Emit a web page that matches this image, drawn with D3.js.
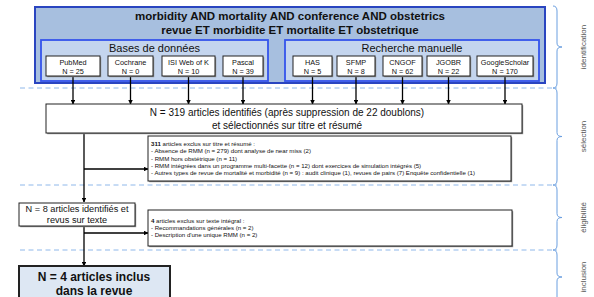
<!DOCTYPE html>
<html>
<head>
<meta charset="utf-8">
<script src="https://cdn.jsdelivr.net/npm/d3@7"></script>
<style>
  body { margin: 0; background: #fff; }
  svg { display: block; font-family: "Liberation Sans", Arial, sans-serif; }
</style>
</head>
<body>
<div id="chart"></div>
<script>
// ---------------------------------------- data ----------------------------------------
const titleLines = ['morbidity AND mortality AND conference AND obstetrics',
  'revue ET morbidite ET mortalite ET obstetrique'];
const groupNames = ['Bases de données', 'Recherche manuelle'];
const sources = ['PubMed', 'Cochrane', 'ISI Web of K', 'Pascal', 'HAS', 'SFMP', 'CNGOF', 'JGOBR', 'GoogleScholar'];
const sourceCounts = [25, 0, 10, 39, 5, 8, 62, 22, 170];
const sourceGroup = [0, 0, 0, 0, 1, 1, 1, 1, 1];
const stages = ['identification', 'sélection', 'éligibilité', 'inclusion'];

const screenedLines = ['N = 319 articles identifiés (après suppression de 22 doublons)',
  'et sélectionnés sur titre et résumé'];
const excluded1Head = ['311', ' articles exclus sur titre et résumé :'];
const excluded1Lines = ['- Absence de RMM (n =  279) dont analyse de near miss (2)',
  '- RMM hors obstétrique (n = 11)',
  '- RMM intégrées dans un programme multi-facette (n = 12) dont exercices de simulation intégrés (5)',
  '- Autres types de revue de mortalité et morbidité (n = 9) : audit clinique (1), revues de pairs (7) Enquête confidentielle (1)'];
const eligibleLines = ['N = 8 articles identifiés et', 'revus sur texte'];
const excluded2Head = ['4', ' articles exclus sur texte intégral :'];
const excluded2Lines = ['- Recommandations générales (n = 2)',
  '- Description d\'une unique RMM (n = 2)'];
const includedLines = ['N = 4 articles inclus', 'dans la revue'];

// ---------------------------------------- layout ----------------------------------------
let w = 594, h = 297;
// stage boundaries (y) for dashed separators and braces
let bounds = [6, 88, 185, 250, 320];

// source boxes: positions along the top band
let srcX = [[46, 100], [108, 153], [162, 215], [223, 263], [293, 332], [337, 375], [383, 422], [427, 470], [477, 533]];
let srcTop = 56, srcBot = 76;

let svg = d3.select('#chart').append('svg').attr('width', w).attr('height', h);

let defs = svg.append('defs');
defs.append('marker')
  .attr('id', 'arrow')
  .attr('viewBox', '0 0 10 10')
  .attr('refX', 9).attr('refY', 5)
  .attr('markerWidth', 4.5).attr('markerHeight', 4.5)
  .attr('markerUnits', 'userSpaceOnUse')
  .attr('orient', 'auto')
  .append('path').attr('d', 'M0,0 L10,5 L0,10 Z').attr('fill', '#000');

function box(x0, y0, x1, y1, opts) {
  opts = opts || {};
  if (opts.shadow) {
    svg.append('rect')
      .attr('x', x0 + 1.2).attr('y', y0 + 1.2)
      .attr('width', x1 - x0).attr('height', y1 - y0)
      .attr('fill', '#8a8a8a');
  }
  return svg.append('rect')
    .attr('x', x0).attr('y', y0)
    .attr('width', x1 - x0).attr('height', y1 - y0)
    .attr('fill', opts.fill || '#fff')
    .attr('stroke', opts.stroke || '#111')
    .attr('stroke-width', opts.sw || 1);
}

// dashed stage separators
svg.selectAll('.sep')
  .data(bounds.slice(1, 4))
  .enter()
  .append('line')
  .attr('class', 'sep')
  .attr('x1', 20).attr('x2', 557)
  .attr('y1', d => d).attr('y2', d => d)
  .attr('stroke', '#8fb8ea')
  .attr('stroke-width', 1)
  .attr('stroke-dasharray', '5,3.5');

// braces + stage labels
let bx = 557;
stages.forEach(function (s, i) {
  let y0 = bounds[i], y1 = bounds[i + 1], ym = i === 3 ? 277 : (y0 + y1) / 2;
  let p = 'M' + (bx - 4) + ',' + y0 + ' Q' + bx + ',' + y0 + ' ' + bx + ',' + (y0 + 5) +
    ' L' + bx + ',' + (ym - 4) + ' Q' + bx + ',' + ym + ' ' + (bx + 5) + ',' + ym +
    ' Q' + bx + ',' + ym + ' ' + bx + ',' + (ym + 4) +
    ' L' + bx + ',' + (y1 - 5) + ' Q' + bx + ',' + y1 + ' ' + (bx - 4) + ',' + y1;
  svg.append('path').attr('d', p).attr('fill', 'none')
    .attr('stroke', '#6b9fe0').attr('stroke-width', 1);
  svg.append('text')
    .text(s)
    .attr('x', 0).attr('y', 0)
    .attr('transform', 'translate(' + 586 + ',' + ym + ') rotate(-90)')
    .attr('text-anchor', 'middle')
    .attr('font-size', 8)
    .attr('fill', '#555');
});

// ---------------------------------------- identification ----------------------------------------
box(35, 7, 545, 83, {fill: '#a7bfdf', stroke: '#2a45c0', sw: 2});
titleLines.forEach(function (t, i) {
  svg.append('text').text(t)
    .attr('x', 290).attr('y', 20 + i * 14)
    .attr('text-anchor', 'middle')
    .attr('font-size', 11.5).attr('font-weight', 'bold')
    .attr('fill', '#111');
});

let groupBox = [[41, 268], [285, 539]];
groupNames.forEach(function (g, i) {
  box(groupBox[i][0], 40, groupBox[i][1], 81, {fill: '#c4d5ee', stroke: '#3554ec', sw: 1.8});
  svg.append('text').text(g)
    .attr('x', (groupBox[i][0] + groupBox[i][1]) / 2).attr('y', 52)
    .attr('text-anchor', 'middle')
    .attr('font-size', 11)
    .attr('fill', '#111');
});

sources.forEach(function (s, i) {
  let x0 = srcX[i][0], x1 = srcX[i][1], cx = (x0 + x1) / 2;
  // arrow to the screened box
  svg.append('line')
    .attr('x1', cx).attr('x2', cx)
    .attr('y1', srcBot).attr('y2', 104)
    .attr('stroke', '#000').attr('stroke-width', 1.3)
    .attr('marker-end', 'url(#arrow)');
  box(x0, srcTop, x1, srcBot, {shadow: true, stroke: '#222'});
  svg.append('text').text(s)
    .attr('x', cx).attr('y', 64.5)
    .attr('text-anchor', 'middle').attr('font-size', 7.3).attr('fill', '#111');
  svg.append('text').text('N = ' + sourceCounts[i])
    .attr('x', cx).attr('y', 73.5)
    .attr('text-anchor', 'middle').attr('font-size', 7.3).attr('fill', '#111');
});

// ---------------------------------------- selection ----------------------------------------
let flowX = 84;
svg.append('line')
  .attr('x1', flowX).attr('x2', flowX).attr('y1', 133).attr('y2', 202)
  .attr('stroke', '#000').attr('stroke-width', 1.3)
  .attr('marker-end', 'url(#arrow)');
svg.append('line')
  .attr('x1', flowX).attr('x2', 148).attr('y1', 169).attr('y2', 169)
  .attr('stroke', '#000').attr('stroke-width', 1.3)
  .attr('marker-end', 'url(#arrow)');

box(46, 104, 522, 133, {shadow: true, stroke: '#222'});
screenedLines.forEach(function (t, i) {
  svg.append('text').text(t)
    .attr('x', 287).attr('y', 116 + i * 13)
    .attr('text-anchor', 'middle').attr('font-size', 10).attr('fill', '#111');
});

function exclusion(x0, y0, x1, y1, head, lines) {
  box(x0, y0, x1, y1, {shadow: true, stroke: '#222'});
  let n = lines.length + 1, lh = 7.4;
  let top = (y0 + y1) / 2 - (n - 1) * lh / 2 + 2;
  let t = svg.append('text')
    .attr('x', x0 + 3).attr('y', top)
    .attr('font-size', 6.1).attr('fill', '#111');
  t.append('tspan').text(head[0]).attr('font-weight', 'bold');
  t.append('tspan').text(head[1]);
  lines.forEach(function (l, i) {
    svg.append('text').text(l)
      .attr('x', x0 + 3).attr('y', top + (i + 1) * lh)
      .attr('font-size', 6.1).attr('fill', '#111');
  });
}
exclusion(148, 136, 511, 181, excluded1Head, excluded1Lines);

// ---------------------------------------- eligibility ----------------------------------------
svg.append('line')
  .attr('x1', flowX).attr('x2', flowX).attr('y1', 226).attr('y2', 266)
  .attr('stroke', '#000').attr('stroke-width', 1.3)
  .attr('marker-end', 'url(#arrow)');
svg.append('line')
  .attr('x1', flowX).attr('x2', 148).attr('y1', 233).attr('y2', 233)
  .attr('stroke', '#000').attr('stroke-width', 1.3)
  .attr('marker-end', 'url(#arrow)');

box(19, 203, 135, 226, {shadow: true, stroke: '#222'});
eligibleLines.forEach(function (t, i) {
  svg.append('text').text(t)
    .attr('x', 77).attr('y', 212 + i * 11)
    .attr('text-anchor', 'middle').attr('font-size', 9.2).attr('fill', '#111');
});
exclusion(148, 210, 512, 246, excluded2Head, excluded2Lines);

// ---------------------------------------- inclusion ----------------------------------------
box(19, 266, 170, 320, {fill: '#dde7f3', stroke: '#222', sw: 2});
includedLines.forEach(function (t, i) {
  svg.append('text').text(t)
    .attr('x', 94).attr('y', 281 + i * 13.5)
    .attr('text-anchor', 'middle').attr('font-size', 12).attr('font-weight', 'bold')
    .attr('fill', '#111');
});
</script>
</body>
</html>
